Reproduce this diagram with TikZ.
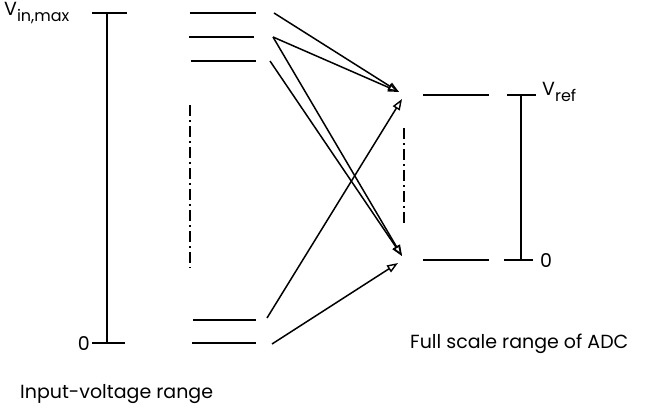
\documentclass[tikz,border=0pt]{standalone}
\usepackage{fontspec}
\setmainfont{Poppins}
\usetikzlibrary{arrows.meta}
\newcommand{\lowsub}[1]{\raisebox{-0.32em}{\fontsize{16}{16}\selectfont #1}}
\begin{document}
\begin{tikzpicture}[x=1pt,y=-1pt,
  level/.style={line width=2.8pt},
  bar/.style={line width=1.6pt},
  conn/.style={line width=1.5pt,-{Triangle[open,length=11pt,width=8pt,line width=1.4pt]}},
  dashdot/.style={line width=2.4pt,dash pattern=on 11pt off 4pt on 2pt off 4pt},
  lbl/.style={inner sep=0pt,font=\fontsize{19}{19}\selectfont}]
\useasboundingbox (0,0) rectangle (646,416);
% input range bar
\coordinate (bt) at (107,13); \coordinate (bb) at (107,343);
\draw[bar] (bt) -- (bb);
\draw[bar] (92,13) -- (127,13);
\draw[bar] (92,343) -- (125,343);
\node[lbl,anchor=west] (vin) at (4,13) {V\lowsub{in,max}};
\node[lbl,anchor=east] (zl) at (90,344) {0};
\node[lbl,anchor=west] (ivr) at (20,394) {Input-voltage range};
% input levels
\draw[level] (190,13) -- (256,13);
\draw[level] (189,37) -- (254,37);
\draw[level] (191,61) -- (256,61);
\draw[level] (193,320) -- (256,320);
\draw[level] (192,343) -- (256,343);
\draw[dashdot] (190,105) -- (190,268);
% output levels
\draw[level] (423,95) -- (489,95);
\draw[level] (423,260) -- (489,260);
\draw[dashdot] (404,128) -- (404,225);
% ADC range bar
\draw[bar] (521,95) -- (521,260);
\draw[bar] (507,95) -- (536,95);
\draw[bar] (504,260) -- (533,260);
\node[lbl,anchor=west] (vref) at (542,92) {V\lowsub{ref}};
\node[lbl,anchor=west] (zr) at (540,261) {0};
\node[lbl,anchor=west] (fsr) at (410,344) {Full scale range of ADC};
% connectors
\coordinate (s1) at (274,13);
\coordinate (s2) at (273,37);
\coordinate (s3) at (270,61);
\coordinate (s4) at (267,318);
\coordinate (s5) at (272,344);
\coordinate (tu) at (399,92);
\coordinate (tu2) at (402,99);
\coordinate (tl) at (402,256);
\coordinate (tl2) at (398,263);
\draw[conn] (s1) -- (tu);
\draw[conn] (s2) -- (tu);
\draw[conn] (s2) -- (tl);
\draw[conn] (s3) -- (tl);
\draw[conn] (s4) -- (tu2);
\draw[conn] (s5) -- (tl2);
\end{tikzpicture}
\end{document}
